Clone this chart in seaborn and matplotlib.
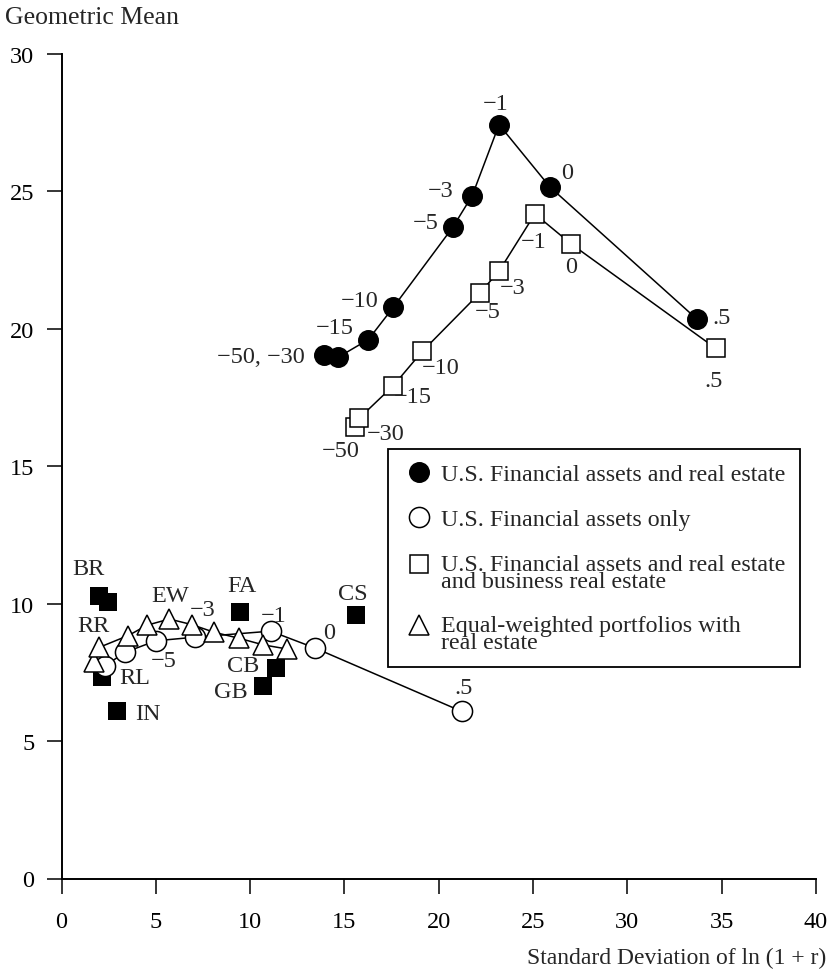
import matplotlib
matplotlib.use("Agg")
import matplotlib.pyplot as plt
from matplotlib.lines import Line2D
import numpy as np
import seaborn as sns

# Financial assets and real estate (filled circles), labelled by parameter value
fr_x = [13.92, 14.68, 16.27, 17.60, 20.74, 21.78, 23.20, 25.90, 33.68]
fr_y = [19.05, 18.97, 19.61, 20.79, 23.69, 24.85, 27.43, 25.16, 20.36]
fr_lab = ["−50, −30", "", "−15", "−10", "−5", "−3", "−1", "0", ".5"]

# Financial assets only (open circles)
fa_x = [2.31, 3.37, 5.01, 7.08, 11.09, 13.46, 21.22]
fa_y = [7.74, 8.23, 8.65, 8.78, 9.00, 8.38, 6.08]
fa_lab = ["", "", "−5", "−3", "−1", "0", ".5"]

# Financial assets, real estate and business real estate (open squares)
frb_x = [15.58, 15.79, 17.59, 19.13, 22.19, 23.20, 25.10, 27.02, 34.69]
frb_y = [16.44, 16.75, 17.93, 19.18, 21.31, 22.10, 24.18, 23.09, 19.29]
frb_lab = ["−50", "−30", "−15", "−10", "−5", "−3", "−1", "0", ".5"]

# Equal-weighted portfolios with real estate (open triangles)
ew_x = [1.72, 2.00, 3.54, 4.55, 5.72, 6.90, 8.09, 9.42, 10.70, 11.97]
ew_y = [7.89, 8.41, 8.84, 9.22, 9.44, 9.24, 8.96, 8.74, 8.50, 8.35]
ew_lab = ["", "RR", "", "", "EW", "", "", "", "", ""]

# Individual asset classes (filled squares)
asset_x = [1.99, 2.48, 2.13, 2.96, 9.46, 11.37, 10.70, 15.62]
asset_y = [10.29, 10.05, 7.32, 6.11, 9.69, 7.66, 6.99, 9.59]
asset_lab = ["BR", "", "RL", "IN", "FA", "CB", "GB", "CS"]

x_ticks = [0, 5, 10, 15, 20, 25, 30, 35, 40]
y_ticks = [0, 5, 10, 15, 20, 25, 30]

# label placement: (dx, dy) in pixels from the point, and horizontal alignment
fr_off = [(-19, -2, "right"), None, (-15, 12, "right"), (-15, 7, "right"),
          (-14, 5, "right"), (-19, 5, "right"), (-3, 21, "center"),
          (17, 15, "center"), (25, 1, "center")]
fa_off = [None, None, (8, -20, "center"), (8, 28, "center"), (3, 16, "center"),
          (14, 16, "center"), (2, 24, "center")]
frb_off = [(-15, -24, "center"), (26, -15, "center"), (20, -11, "center"),
           (18, -16, "center"), (8, -19, "center"), (14, -16, "center"),
           (-1, -28, "center"), (0, -23, "center"), (-2, -32, "center")]
ew_off = [None, (-6, 22, "center"), None, None, (1, 24, "center"),
          None, None, None, None, None]
asset_off = [(-11, 27, "center"), None, (33, 0, "center"), (31, -3, "center"),
             (2, 27, "center"), (-33, 2, "center"), (-32, -5, "center"),
             (-3, 21, "center")]

sns.set_style("ticks")
plt.rcParams["font.family"] = ["Liberation Serif", "DejaVu Serif"]
plt.rcParams["axes.unicode_minus"] = True

FS = 17.5
LW = 1.1

fig = plt.figure(figsize=(8.32, 9.79), dpi=100)
ax = fig.add_axes([61.5 / 832, 1 - 879.5 / 979, 754.4 / 832, 824.5 / 979])

# asset classes first so the portfolio curves sit on top
sns.scatterplot(x=asset_x, y=asset_y, marker="s", s=12.8 ** 2, color="black",
                edgecolor="black", linewidth=0, ax=ax, zorder=2)

common = dict(ax=ax, sort=False, estimator=None, color="black", linewidth=LW,
              markeredgecolor="black", markeredgewidth=LW)
sns.lineplot(x=fr_x, y=fr_y, marker="o", markersize=14,
             markerfacecolor="black", zorder=3, **common)
sns.lineplot(x=frb_x, y=frb_y, marker="s", markersize=12.5,
             markerfacecolor="white", zorder=3, **common)
sns.lineplot(x=fa_x, y=fa_y, marker="o", markersize=14.5,
             markerfacecolor="white", zorder=3, **common)
sns.lineplot(x=ew_x, y=ew_y, marker="^", markersize=15,
             markerfacecolor="white", zorder=4, **common)


def put_labels(xs, ys, labs, offs):
    for x, y, lab, off in zip(xs, ys, labs, offs):
        if not lab or off is None:
            continue
        dx, dy, ha = off
        ax.annotate(lab, (x, y), xytext=(dx, dy), textcoords="offset pixels",
                    ha=ha, va="center", fontsize=FS, zorder=5)


put_labels(fr_x, fr_y, fr_lab, fr_off)
put_labels(fa_x, fa_y, fa_lab, fa_off)
put_labels(frb_x, frb_y, frb_lab, frb_off)
put_labels(ew_x, ew_y, ew_lab, ew_off)
put_labels(asset_x, asset_y, asset_lab, asset_off)

ax.set_xlim(0, 40)
ax.set_ylim(0, 30)
ax.set_xticks(x_ticks)
ax.set_yticks(y_ticks)
ax.set_xticklabels([str(t) for t in x_ticks])
ax.set_yticklabels([str(t) for t in y_ticks])
ax.tick_params(direction="out", length=10.5, width=LW, labelsize=FS,
               colors="black")
ax.tick_params(axis="x", pad=13)
ax.tick_params(axis="y", pad=9)
for side in ("top", "right"):
    ax.spines[side].set_visible(False)
for side in ("left", "bottom"):
    ax.spines[side].set_linewidth(1.4)
    ax.spines[side].set_color("black")

ax.set_xlabel("Standard Deviation of ln (1 + r)", fontsize=17, loc="right")
ax.xaxis.set_label_coords((826 - 61.5) / 754.4, (879.5 - 948) / 824.5)
ax.set_ylabel("Geometric Mean", fontsize=18.5, rotation=0, ha="left",
              va="center")
ax.yaxis.set_label_coords((5 - 61.5) / 754.4, (879.5 - 18) / 824.5)

handles = [
    Line2D([], [], linestyle="none", marker="o", markersize=14,
           markerfacecolor="black", markeredgecolor="black", markeredgewidth=LW),
    Line2D([], [], linestyle="none", marker="o", markersize=14.5,
           markerfacecolor="white", markeredgecolor="black", markeredgewidth=LW),
    Line2D([], [], linestyle="none", marker="s", markersize=12.5,
           markerfacecolor="white", markeredgecolor="black", markeredgewidth=LW),
    Line2D([], [], linestyle="none", marker="^", markersize=15,
           markerfacecolor="white", markeredgecolor="black", markeredgewidth=LW),
]
labels = [
    "U.S. Financial assets and real estate",
    "U.S. Financial assets only",
    "U.S. Financial assets and real estate\nand business real estate",
    "Equal-weighted portfolios with\nreal estate",
]
leg = ax.legend(handles, labels, loc="upper left",
                bbox_to_anchor=((388 - 61.5) / 754.4, (879.5 - 450) / 824.5),
                borderaxespad=0, frameon=True, fancybox=False, shadow=False,
                framealpha=1, edgecolor="black", fontsize=17.3, numpoints=1,
                handlelength=1.4, handletextpad=0.22, borderpad=0.6,
                labelspacing=0.97)
leg.get_frame().set_linewidth(1.3)
for t in leg.get_texts():
    t.set_linespacing(0.75)
# two-line entries: keep the key level with the first line of text
for h in leg.legend_handles[2:]:
    h.set_ydata(np.asarray(h.get_ydata(), dtype=float) + 6)

fig.savefig("out.png", dpi=100, facecolor="white")
